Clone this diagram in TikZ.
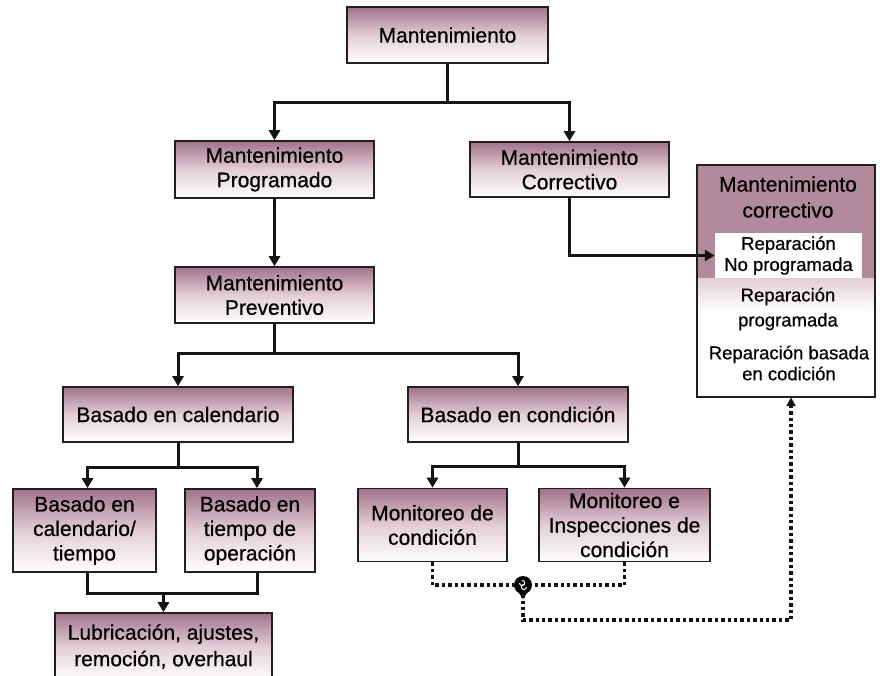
\documentclass[tikz,border=0pt]{standalone}
\usepackage{fontspec}
\setmainfont{Liberation Sans}[FakeBold=0.6,AutoFakeBold=0.6]
\usetikzlibrary{arrows.meta,calc}
\definecolor{mauve}{RGB}{162,114,136}
\definecolor{mauvehead}{RGB}{178,138,156}
\definecolor{mauvelight}{RGB}{226,206,215}
\definecolor{edge}{RGB}{35,30,32}
\tikzset{
  box/.style={draw=edge, line width=1.6pt, top color=mauve, bottom color=white,
    middle color=mauvelight, align=center, inner sep=2pt,
    font=\bfseries\fontsize{21}{24.5}\selectfont},
  conn/.style={line width=3pt, draw=black!92},
  arrowline/.style={conn, -{Triangle[length=10pt,width=11pt]}},
  dotline/.style={line width=3.4pt, draw=black!92, dash pattern=on 3.4pt off 3pt},
  dotarrow/.style={dotline, -{Triangle[length=9pt,width=9pt]}},
  reptext/.style={align=center, inner sep=0pt, font=\bfseries\fontsize{18.5}{21}\selectfont},
}
\begin{document}
\begin{tikzpicture}[x=1pt,y=-1pt]
\clip (0,0) rectangle (880,675);
\fill[white] (0,0) rectangle (880,675);

% main hierarchy
\node[box, minimum width=201pt, minimum height=56pt] (top)  at (447.5,35)   {Mantenimiento};
\node[box, minimum width=199pt, minimum height=57pt] (prog) at (274.5,169.5) {Mantenimiento\\Programado};
\node[box, minimum width=199pt, minimum height=55pt] (corr) at (569.5,169.5) {Mantenimiento\\Correctivo};
\node[box, minimum width=199pt, minimum height=56pt] (prev) at (274.5,295)  {Mantenimiento\\Preventivo};
\node[box, minimum width=230pt, minimum height=55pt] (cal)  at (178,414.5)  {Basado en calendario};
\node[box, minimum width=220pt, minimum height=55pt] (cond) at (518,414.5)  {Basado en condición};
\node[box, minimum width=143pt, minimum height=83pt] (calt) at (84.5,530.5) {Basado en\\calendario/\\tiempo};
\node[box, minimum width=130pt, minimum height=83pt] (oper) at (250,530.5)  {Basado en\\tiempo de\\operación};
\node[box, minimum width=149pt, minimum height=73pt] (mon)  at (432.5,525)  {Monitoreo de\\condición};
\node[box, minimum width=171pt, minimum height=73pt] (insp) at (624.5,525)  {Monitoreo e\\Inspecciones de\\condición};
\node[box, minimum width=217pt, minimum height=67pt, font=\bfseries\fontsize{21}{26.5}\selectfont] (lub) at (163.5,646.5) {Lubricación, ajustes,\\remoción, overhaul};

% corrective maintenance panel
\path node[minimum width=178pt, minimum height=232pt, inner sep=0pt] (big) at (786,281) {};
\fill[mauvehead] (big.north west) rectangle ($(big.east)+(0,-3)$);
\shade[top color=mauvelight, bottom color=white] ($(big.west)+(0,-3)$) rectangle ($(big.east)+(0,30)$);
\fill[white] ($(big.west)+(0,30)$) rectangle (big.south east);
\node[fill=white, minimum width=147pt, minimum height=45pt, inner sep=0pt, reptext] (rep1) at (788.5,255.5) {Reparación\\No programada};
\draw[draw=edge, line width=1.6pt] (big.north west) rectangle (big.south east);
\node[align=center, inner sep=0pt, font=\bfseries\fontsize{21}{26}\selectfont] (bighead) at (788,197) {Mantenimiento\\correctivo};
\node[reptext, font=\bfseries\fontsize{18.5}{25}\selectfont] (rep2) at (788,309) {Reparación\\programada};
\node[reptext] (rep3) at (789,363) {Reparación basada\\en codición};

% branch levels
\coordinate (j1) at (0,102);
\coordinate (j2) at (0,353);
\coordinate (j3) at (0,467);
\coordinate (j4) at (0,466);
\coordinate (j5) at (0,593);
\coordinate (j6) at (791,620);

\draw[conn] (top.south) -- (top.south |- j1);
\draw[arrowline] (top.south |- j1) -| (prog.north);
\draw[arrowline] (top.south |- j1) -| (corr.north);

\draw[arrowline] (prog.south) -- (prev.north);

\draw[conn] (prev.south) -- (prev.south |- j2);
\draw[arrowline] (prev.south |- j2) -| (cal.north);
\draw[arrowline] (prev.south |- j2) -| (cond.north);

\draw[arrowline] (corr.south) |- (rep1.west);

\draw[conn] (cal.south) -- (cal.south |- j3);
\draw[arrowline] (cal.south |- j3) -| ([xshift=3pt]calt.north);
\draw[arrowline] (cal.south |- j3) -| ([xshift=7pt]oper.north);

\draw[conn] ([xshift=3pt]calt.south) |- (lub.north |- j5) -| ([xshift=7pt]oper.south);
\draw[arrowline] (lub.north |- j5) -- (lub.north);

\draw[conn] (cond.south) -- (cond.south |- j4);
\draw[arrowline] (cond.south |- j4) -| (mon.north);
\draw[arrowline] (cond.south |- j4) -| (insp.north);

% condition feedback loop
\node[circle, fill=black, minimum size=18pt, inner sep=0pt] (hub) at (523,585) {};
\fill[black] (517,590) -- (529,590) -- (523,599) -- cycle;
\draw[white, line width=1pt] (519.5,583) arc[start angle=180, end angle=-90, radius=2.6];
\draw[white, line width=1pt] (526.5,587) arc[start angle=0, end angle=270, radius=2.6];
\draw[dotline] (mon.south) |- (hub.west);
\draw[dotline] (insp.south) |- (hub.east);
\draw[dotarrow] (hub.south) |- (j6) -- (j6 |- big.south);
\end{tikzpicture}
\end{document}
